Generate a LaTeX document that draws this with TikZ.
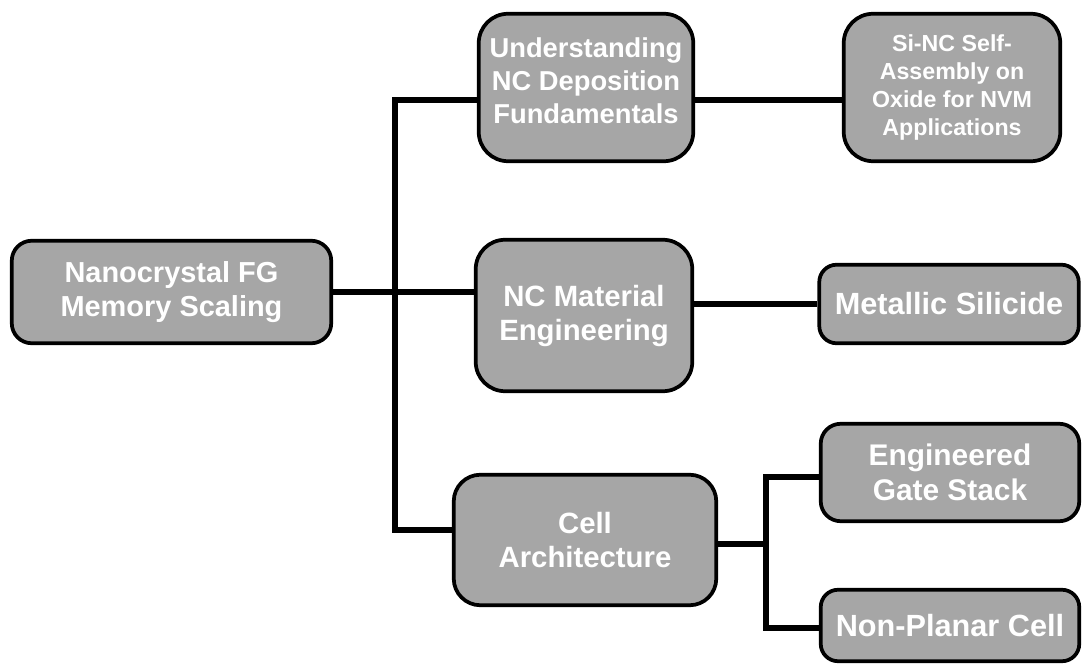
\documentclass[tikz,border=0pt]{standalone}
\usepackage{fontspec}
\setmainfont{Liberation Sans}
\usepackage{xcolor}
\definecolor{boxgray}{RGB}{166,166,166}
\tikzset{
	box/.style={draw=black, line width=2.8pt, fill=boxgray, rounded corners=17pt,
		text=white, align=center, inner sep=0pt},
	wire/.style={line width=5.2pt, line join=miter}
}

\begin{document}
\begin{tikzpicture}[x=0.75pt, y=-0.75pt]
			\useasboundingbox (0,0) rectangle (1083,666);
			% boxes
			\node[box, minimum width=239.6pt, minimum height=76.9pt, rounded corners=15pt,
				font=\bfseries\fontsize{21.7}{25}\selectfont]
			(root) at (171.5,292) {Nanocrystal FG\\Memory Scaling};
			\node[box, minimum width=160.9pt, minimum height=110.6pt, rounded corners=22pt,
				font=\bfseries\fontsize{20.5}{24.5}\selectfont]
			(und) at (586,87.5) {Understanding\\NC Deposition\\Fundamentals\\[-14pt]\mbox{}};
			\node[box, minimum width=162.4pt, minimum height=110.6pt, rounded corners=22pt,
				font=\bfseries\fontsize{17.4}{21}\selectfont]
			(sinc) at (952,87.5) {Si-NC Self-\\Assembly on\\Oxide for NVM\\Applications};
			\node[box, minimum width=162.4pt, minimum height=113.6pt, rounded corners=22pt,
				font=\bfseries\fontsize{22}{25.5}\selectfont]
			(ncm) at (584,315.5) {NC Material\\Engineering};
			\node[box, minimum width=194.6pt, minimum height=58.9pt, rounded corners=13pt,
				font=\bfseries\fontsize{23}{26}\selectfont]
			(metal) at (949,304) {Metallic Silicide};
			\node[box, minimum width=196.9pt, minimum height=97.9pt, rounded corners=20pt,
				font=\bfseries\fontsize{22}{25}\selectfont]
			(cell) at (585,540) {Cell\\Architecture};
			\node[box, minimum width=193.9pt, minimum height=73.1pt, rounded corners=15pt,
				font=\bfseries\fontsize{22.4}{26}\selectfont]
			(eng) at (950,472.5) {Engineered\\Gate Stack};
			\node[box, minimum width=193.9pt, minimum height=53.6pt, rounded corners=13pt,
				font=\bfseries\fontsize{23}{26}\selectfont]
			(nonp) at (950,625.5) {Non-Planar Cell};
			% connectors
			\coordinate (trunktop) at (395,100);
			\coordinate (trunkbot) at (395,530);
			\coordinate (fork) at (766,544);
			\coordinate (forktop) at (766,477);
			\coordinate (forkbot) at (766,628);
			\draw[wire] (root.east) -- (ncm.west |- root.east);
			\draw[wire] (und.west |- trunktop) -| (trunkbot) -- (cell.west |- trunkbot);
			\draw[wire] (und.east |- trunktop) -- (sinc.west |- trunktop);
			\draw[wire] (ncm.east |- metal.west) -- (metal.west);
			\draw[wire] (cell.east |- fork) -- (fork);
			\draw[wire] (eng.west |- forktop) -- (forktop) -- (forkbot) -- (nonp.west |- forkbot);
		\end{tikzpicture}
\end{document}
